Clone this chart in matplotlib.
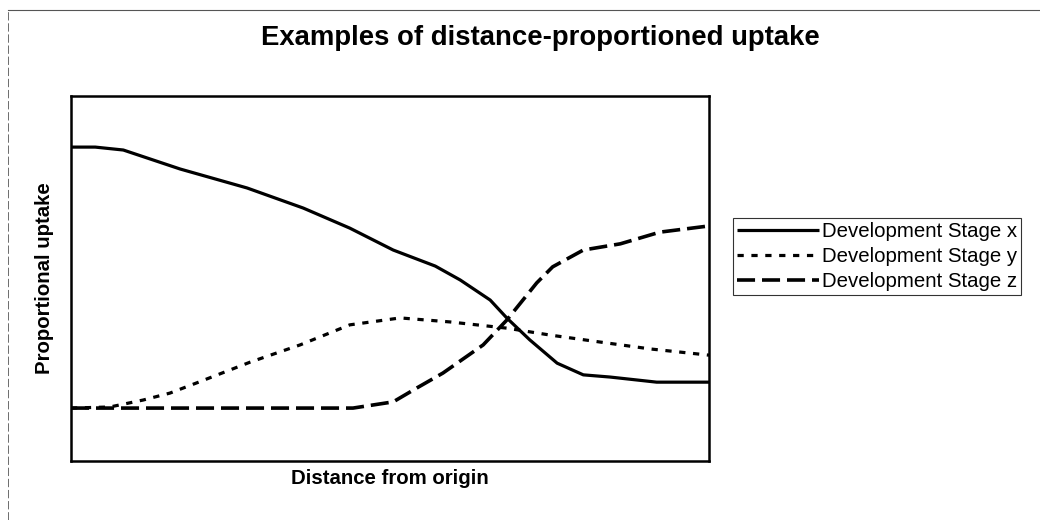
import matplotlib
matplotlib.use("Agg")
import matplotlib.pyplot as plt
from matplotlib.lines import Line2D

plt.rcParams['font.family'] = ['Liberation Sans', 'DejaVu Sans']
plt.rcParams['lines.scale_dashes'] = False

# distance (0-100) and proportional uptake (0-100) for each stage
x_dist = [0, 3.8, 8.2, 17.1, 27.6, 36.4, 43.7, 50.5, 57.1, 61.0, 65.7, 68.3, 71.9, 76.2, 80.3, 84.5, 91.8, 100]
x_uptake = [86.0, 86.0, 85.2, 80.0, 74.8, 69.3, 63.8, 57.8, 53.4, 49.6, 44.1, 39.2, 33.2, 26.8, 23.6, 23.0, 21.6, 21.6]

y_dist = [0, 6.1, 11.3, 15.5, 19.7, 28.1, 35.9, 43.7, 51.6, 59.4, 68.3, 75.1, 82.9, 90.8, 100]
y_uptake = [14.5, 14.8, 16.7, 18.6, 21.4, 27.1, 31.8, 37.3, 39.2, 38.1, 36.4, 34.5, 32.6, 30.7, 29.0]

z_dist = [0, 20.2, 44.2, 50.5, 54.2, 58.3, 64.6, 68.3, 73.0, 75.5, 80.3, 86.1, 92.3, 100]
z_uptake = [14.5, 14.5, 14.5, 16.2, 20.0, 24.1, 31.8, 38.6, 48.8, 53.2, 57.8, 59.5, 62.7, 64.4]

labels = ["Development Stage x", "Development Stage y", "Development Stage z"]

fig = plt.figure(figsize=(10.4, 5.2), dpi=100)
ax = fig.add_axes([71/1040, 1 - 461/520, 638/1040, 365/520])

lw = 2.3
ax.plot(x_dist, x_uptake, color="black", lw=lw, solid_capstyle="butt",
        solid_joinstyle="round", label=labels[0])
ax.plot(y_dist, y_uptake, color="black", lw=lw, dashes=(4.5, 5.5), dash_capstyle="butt", label=labels[1])
ax.plot(z_dist, z_uptake, color="black", lw=lw + 0.3, dashes=(13, 5), dash_capstyle="butt", label=labels[2])

ax.set_xlim(0, 100)
ax.set_ylim(0, 100)
ax.set_xticks([])
ax.set_yticks([])
for s in ax.spines.values():
    s.set_linewidth(1.8)

ax.set_xlabel("Distance from origin", fontsize=14.7, fontweight="bold", labelpad=6)
ax.set_ylabel("Proportional uptake", fontsize=14.7, fontweight="bold", labelpad=12)
fig.text(540/1040, 1 - 38/520, "Examples of distance-proportioned uptake",
         ha="center", va="center", fontsize=19.8, fontweight="bold")

leg = fig.legend(loc="center left", bbox_to_anchor=(733/1040, 1 - 256.5/520),
                 fontsize=14.7, frameon=True, fancybox=False, handlelength=4.0,
                 handletextpad=0.15, labelspacing=0.3, borderpad=0.2, borderaxespad=0)
leg.get_frame().set_edgecolor("black")
leg.get_frame().set_linewidth(0.8)

# thin outer frame on the top and left edges
fig.add_artist(Line2D([8/1040, 1], [1 - 10/520, 1 - 10/520], color="#555555", lw=0.8))
fig.add_artist(Line2D([8/1040, 8/1040], [0, 1 - 10/520], color="#555555", lw=0.6, ls=(0, (6, 2))))

fig.savefig("out.png", dpi=100)
